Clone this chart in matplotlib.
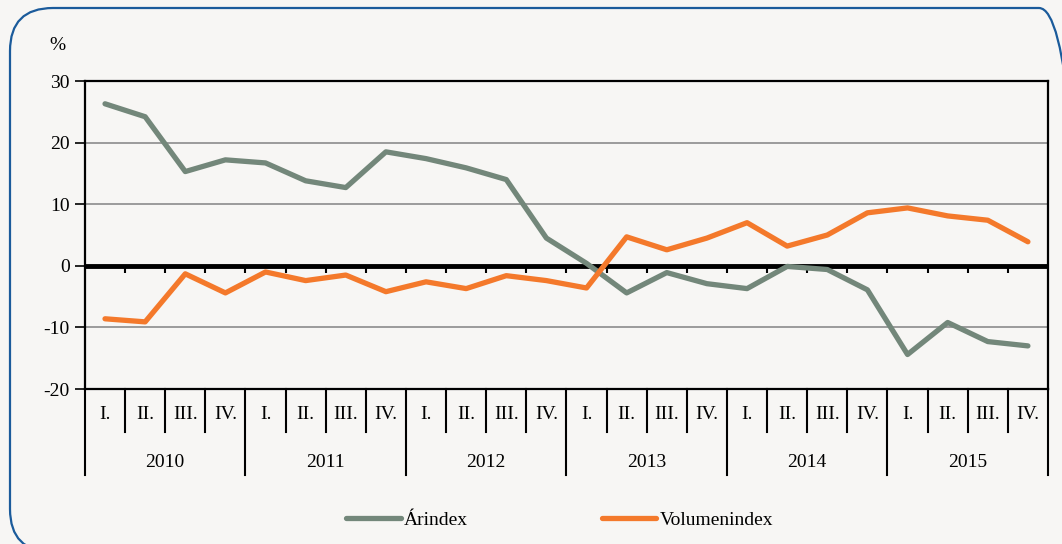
import matplotlib
matplotlib.use('Agg')
import matplotlib.pyplot as plt
from matplotlib.patches import FancyBboxPatch
from matplotlib.lines import Line2D
import matplotlib.transforms as mtransforms

# data
years = ['2010', '2011', '2012', '2013', '2014', '2015']
quarters = ['I.', 'II.', 'III.', 'IV.']
arindex = [26.3, 24.2, 15.3, 17.2, 16.7, 13.8, 12.7, 18.5,
           17.4, 15.9, 14.0, 4.5, 0.4, -4.4, -1.1, -2.9,
           -3.7, -0.1, -0.6, -3.9, -14.4, -9.2, -12.3, -13.0]
volumenindex = [-8.6, -9.1, -1.3, -4.4, -1.0, -2.4, -1.5, -4.2,
                -2.6, -3.7, -1.6, -2.4, -3.6, 4.7, 2.6, 4.5,
                7.0, 3.2, 5.0, 8.6, 9.4, 8.1, 7.4, 3.9]
yticks = [-20, -10, 0, 10, 20, 30]

bg = '#f7f6f4'
col_ar = '#73877a'
col_vol = '#f4792b'
plt.rcParams['font.family'] = ['Liberation Serif', 'DejaVu Serif']

fig = plt.figure(figsize=(10.62, 5.44), dpi=100, facecolor=bg)

# rounded frame (outline only), right side lies outside the canvas
frame = FancyBboxPatch((0.10, -0.08), 10.72, 5.44,
                       boxstyle='round,pad=0,rounding_size=0.43',
                       transform=fig.dpi_scale_trans, facecolor='none',
                       edgecolor='#1b5b9b', linewidth=1.6, zorder=-1)
fig.patches.append(frame)

ax = fig.add_axes([0.0800, 0.2849, 0.9068, 0.5662])
ax.set_facecolor(bg)
n = len(arindex)
xs = [i + 0.5 for i in range(n)]

ax.set_xlim(0, n)
ax.set_ylim(-20, 30)
ax.set_yticks(yticks)
ax.set_yticklabels([str(t) for t in yticks], fontsize=14)
ax.tick_params(axis='y', direction='out', length=7, width=1.2, pad=4)
ax.set_xticks([])
for y in [-10, 10, 20]:
    ax.axhline(y, color='#8c8c8c', lw=1.2, zorder=1)
for s in ax.spines.values():
    s.set_linewidth(1.6)
    s.set_color('black')

ax.plot(xs, arindex, color=col_ar, lw=3.8, solid_capstyle='round', zorder=3)
ax.plot(xs, volumenindex, color=col_vol, lw=3.8, solid_capstyle='round', zorder=3)

# zero axis with small ticks
ax.axhline(0, color='black', lw=3.5, zorder=2)
ax.vlines(range(1, n), -1.1, 0, color='black', lw=1.5, zorder=2)

# category axis below
tr = mtransforms.blended_transform_factory(ax.transData, ax.transAxes)
for i in range(n):
    ax.text(xs[i], -0.084, quarters[i % 4], transform=tr, ha='center',
            va='center', fontsize=14)
for k in range(n + 1):
    low = -0.279 if k % 4 == 0 else -0.14
    ax.add_line(Line2D([k, k], [0, low], transform=tr, color='black',
                       lw=1.5, clip_on=False))
for j, yr in enumerate(years):
    ax.text(4 * j + 2, -0.237, yr, transform=tr, ha='center', va='center',
            fontsize=14)

fig.text(57 / 1062, 1 - 45 / 544, '%', ha='center', va='center', fontsize=14)

handles = [Line2D([], [], color=col_ar, lw=3.8, solid_capstyle='round'),
           Line2D([], [], color=col_vol, lw=3.8, solid_capstyle='round')]
fig.legend(handles, ['Árindex', 'Volumenindex'], loc='center',
           bbox_to_anchor=(0.527, 1 - 520 / 544), ncol=2, frameon=False,
           fontsize=14, handlelength=2.8, handletextpad=0.15,
           columnspacing=6.9)

fig.savefig('out.png', dpi=100, facecolor=bg)
